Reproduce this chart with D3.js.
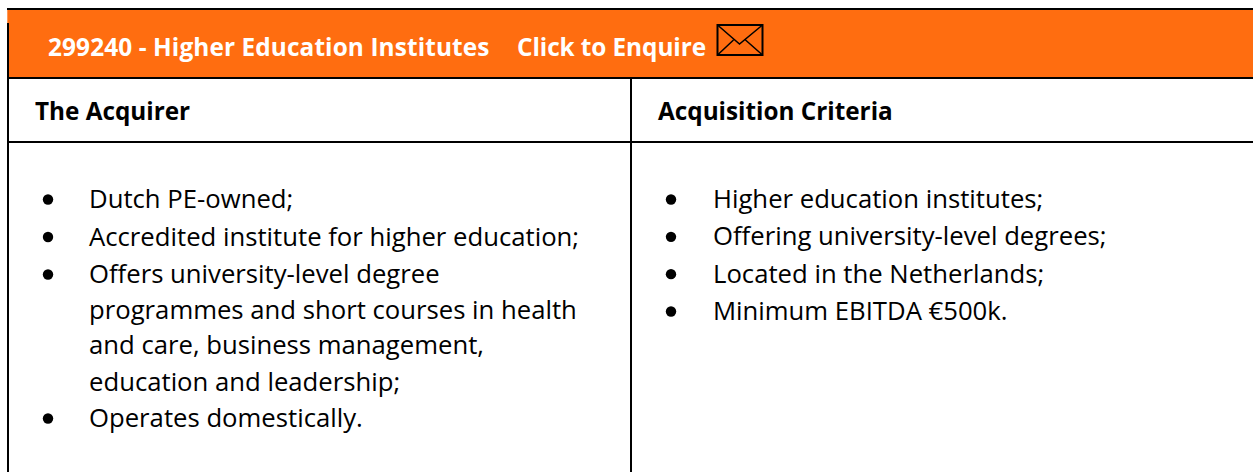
<!DOCTYPE HTML>
<html>
  <head>
    <meta charset='utf-8'>
    <title>299240 - Higher Education Institutes</title>
    <script src='https://d3js.org/d3.v7.min.js'></script>
  </head>
  <style>
    body {margin:0; background:#fff;}
    svg {display:block; font-family:'Open Sans',Lato,sans-serif; font-variant-ligatures:none;}
    .head {font-weight:700; font-size:24.3px; fill:#000;}
    .title {font-weight:700; font-size:24.4px; fill:#fff;}
    .item {font-size:25.7px; fill:#000;}
  </style>
  <body>
    <svg id='chart'></svg>
<script>
  var titleParts=['299240 - Higher Education Institutes','Click to Enquire'];
  var columns=['The Acquirer','Acquisition Criteria'];
  // text lines per column, 1 on the first line of a list item
  var acquirerLines=['Dutch PE-owned;','Accredited institute for higher education;','Offers university-level degree',
                     'programmes and short courses in health','and care, business management,',
                     'education and leadership;','Operates domestically.'];
  var acquirerBullets=[1,1,1,0,0,0,1];
  var criteriaLines=['Higher education institutes;','Offering university-level degrees;',
                     'Located in the Netherlands;','Minimum EBITDA €500k.'];
  var criteriaBullets=[1,1,1,1];

  var width=1253,height=472;
  var svg=d3.select('#chart').attr('width',width).attr('height',height);
  var leftY=d3.scaleLinear().domain([0,2,4,6]).range([208,283,354,427]);
  var rightY=d3.scaleLinear().domain([0,3]).range([208,320]);
  var colX=d3.scaleOrdinal().domain(columns).range([35,658]);
  var bulletX=d3.scaleOrdinal().domain(columns).range([48,671]);
  var lineX=d3.scaleOrdinal().domain(columns).range([89,713]);

  svg.append('rect').attr('x',7.3).attr('y',9).attr('width',width-7).attr('height',69).attr('fill','#ff6d10');

  var rules=[[7,9,width,9],[8,78,width,78],[8,142,width,142],[8,23,8,height],[631,78,631,height]];
  svg.selectAll('line.rule').data(rules).join('line').attr('class','rule')
     .attr('x1',d=>d[0]).attr('y1',d=>d[1]).attr('x2',d=>d[2]).attr('y2',d=>d[3])
     .attr('stroke','#000').attr('stroke-width',2);

  svg.selectAll('text.title').data(titleParts).join('text').attr('class','title')
     .attr('x',(d,i)=>[48,517][i]).attr('y',55.5)
     .style('letter-spacing',(d,i)=>['.1px','-.1px'][i]).text(d=>d);

  // envelope icon
  var env=svg.append('g').attr('transform','translate(717.5,25)')
             .attr('fill','none').attr('stroke','#000');
  env.append('rect').attr('width',45).attr('height',30).attr('stroke-width',2);
  env.append('path').attr('stroke-width',1.5).attr('d','M0,0L22,19L45,0M0,30L16,15M45,30L28,15');

  svg.selectAll('text.head').data(columns).join('text').attr('class','head')
     .attr('x',d=>colX(d)).attr('y',119.5).text(d=>d);

  function drawList(col,lines,bullets,y) {
    var g=svg.append('g');
    g.selectAll('text').data(lines).join('text').attr('class','item')
     .attr('x',lineX(col)).attr('y',(d,i)=>y(i)).text(d=>d);
    g.selectAll('circle').data(bullets.map((b,i)=>b?i:-1).filter(i=>i>=0)).join('circle')
     .attr('cx',bulletX(col)).attr('cy',i=>y(i)-8.5).attr('r',5.2).attr('fill','#000');
  };
  drawList(columns[0],acquirerLines,acquirerBullets,leftY);
  drawList(columns[1],criteriaLines,criteriaBullets,rightY);
</script>
  </body>
</html>
